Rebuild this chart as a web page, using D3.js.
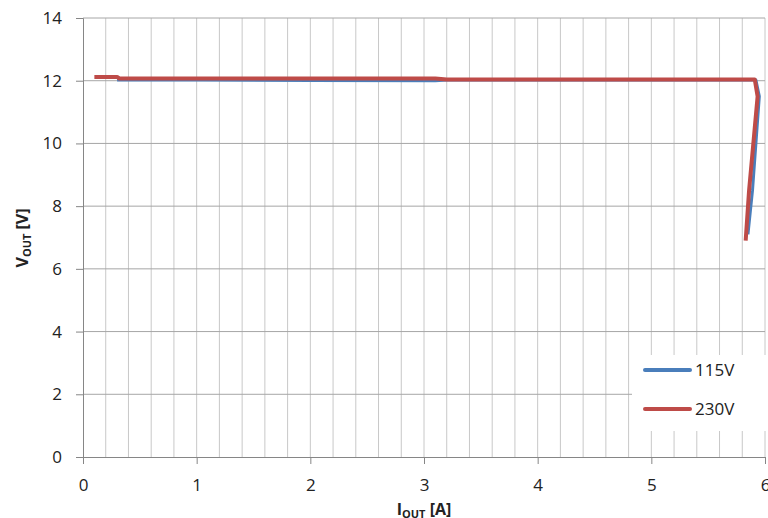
<!DOCTYPE html>
<meta charset="utf-8">
<script src="https://d3js.org/d3.v7.min.js"></script>
<style>
  body { margin: 0; background: #fff; }
  text { font-family: "Open Sans", "Noto Sans", sans-serif; fill: #222; }
</style>
<div id="my_dataviz"></div>
<script>

  // data: [I_OUT (A), V_OUT (V)]
  var series115 = [[0.30,12.02],[1.0,12.02],[2.0,12.01],[3.1,12.00],[3.2,12.02],[4.0,12.02],[5.0,12.02],
                   [5.92,12.02],[5.95,11.5],[5.93,10.5],[5.89,8.5],[5.85,7.1]];
  var series230 = [[0.10,12.12],[0.30,12.12],[0.32,12.07],[1.0,12.07],[2.0,12.07],[3.1,12.07],[3.2,12.04],
                   [4.0,12.04],[5.0,12.04],[5.91,12.04],[5.935,11.5],[5.91,10.5],[5.86,8.5],[5.83,6.9]];
  var seriesNames = ["115V", "230V"];
  var xTicks = [0, 1, 2, 3, 4, 5, 6];
  var yTicks = [0, 2, 4, 6, 8, 10, 12, 14];

  var margin = {top: 18, right: 3, bottom: 61, left: 83},
    width = 768 - margin.left - margin.right,
    height = 518 - margin.top - margin.bottom;

  var svg = d3.select("#my_dataviz")
  .append("svg")
    .attr("width", 768)
    .attr("height", 518)
  .append("g")
    .attr("transform", "translate(" + margin.left + "," + margin.top + ")");

  var x = d3.scaleLinear().domain([0, 6]).range([0, width]);
  var y = d3.scaleLinear().domain([0, 14]).range([height, 0]);

  // vertical grid every 0.2 A
  svg.append("g")
    .selectAll("line")
    .data(d3.range(1, 31).map(function(i){ return i * 0.2; }))
    .enter().append("line")
      .attr("x1", function(d){ return x(d); })
      .attr("x2", function(d){ return x(d); })
      .attr("y1", 0)
      .attr("y2", height)
      .style("stroke", "#c8c8c8")
      .style("stroke-width", 1);

  // horizontal grid
  svg.append("g")
    .selectAll("line")
    .data(yTicks.slice(1))
    .enter().append("line")
      .attr("x1", 0)
      .attr("x2", width)
      .attr("y1", function(d){ return y(d); })
      .attr("y2", function(d){ return y(d); })
      .style("stroke", "#a6a6a6")
      .style("stroke-width", 1);

  // axes
  var xAxis = svg.append("g")
    .attr("transform", "translate(0," + height + ")")
    .call(d3.axisBottom(x).tickValues(xTicks).tickSize(7).tickPadding(15).tickFormat(d3.format("d")));
  var yAxis = svg.append("g")
    .call(d3.axisLeft(y).tickValues(yTicks).tickSize(7).tickPadding(14).tickFormat(d3.format("d")));

  [xAxis, yAxis].forEach(function(a){
    a.selectAll(".domain").style("stroke", "#868686");
    a.selectAll(".tick line").style("stroke", "#868686");
    a.selectAll(".tick text")
      .style("font-size", "17px")
      .style("font-family", "'Open Sans', sans-serif")
      .style("fill", "#222");
  });

  // lines
  var line = d3.line()
    .x(function(d){ return x(d[0]); })
    .y(function(d){ return y(d[1]); });

  svg.append("path")
    .datum(series115)
    .attr("d", line)
    .style("fill", "none")
    .style("stroke", "#4a7ebb")
    .style("stroke-width", 3)
    .style("stroke-linejoin", "round");

  svg.append("path")
    .datum(series230)
    .attr("d", line)
    .style("fill", "none")
    .style("stroke", "#be4b48")
    .style("stroke-width", 4)
    .style("stroke-linejoin", "round");

  // legend
  var legend = svg.append("g")
    .attr("transform", "translate(" + (632 - margin.left) + "," + (355 - margin.top) + ")");
  legend.append("rect")
    .attr("width", 136)
    .attr("height", 76)
    .style("fill", "#fff");
  var colors = ["#4a7ebb", "#be4b48"];
  seriesNames.forEach(function(name, i){
    var yy = 15 + i * 39;
    legend.append("line")
      .attr("x1", 13).attr("x2", 58)
      .attr("y1", yy).attr("y2", yy)
      .style("stroke", colors[i])
      .style("stroke-width", 4)
      .style("stroke-linecap", "round");
    legend.append("text")
      .attr("x", 63)
      .attr("y", yy + 6)
      .style("font-size", "17px")
      .text(name);
  });

  // axis titles
  var xt = svg.append("text")
    .attr("x", width / 2)
    .attr("y", height + 58)
    .attr("text-anchor", "middle")
    .style("font-size", "16px")
    .style("font-weight", "bold");
  xt.append("tspan").text("I");
  xt.append("tspan").attr("dy", 3).style("font-size", "11px").text("OUT");
  xt.append("tspan").attr("dy", -3).text(" [A]");

  var yt = svg.append("text")
    .attr("transform", "translate(" + (28 - margin.left) + "," + (238 - margin.top) + ") rotate(-90)")
    .attr("text-anchor", "middle")
    .style("font-size", "16px")
    .style("font-weight", "bold");
  yt.append("tspan").text("V");
  yt.append("tspan").attr("dy", 3).style("font-size", "11px").text("OUT");
  yt.append("tspan").attr("dy", -3).text(" [V]");

</script>
